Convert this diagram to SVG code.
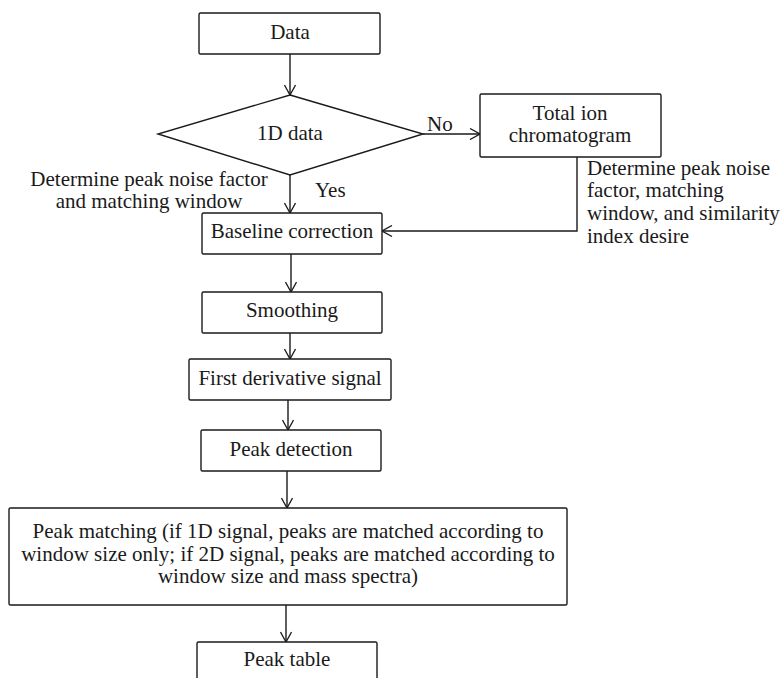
<svg xmlns="http://www.w3.org/2000/svg" width="782" height="678" viewBox="0 0 782 678">
<style>
.box{fill:#fff;stroke:#1a1a1a;stroke-width:1.4}
.t{font-family:"Liberation Serif","Times New Roman",serif;font-size:21px;fill:#1a1a1a}
.c{text-anchor:middle}
.ln{fill:none;stroke:#1a1a1a;stroke-width:1.4;marker-end:url(#ah)}
</style>
<defs>
<marker id="ah" viewBox="0 0 12 12" refX="11" refY="6" markerWidth="12" markerHeight="12" markerUnits="userSpaceOnUse" orient="auto">
<path d="M1,0.5 L11,6 L1,11.5" fill="none" stroke="#1a1a1a" stroke-width="1.3"/>
</marker>
</defs>
<rect width="782" height="678" fill="#fff"/>
<g id="connectors">
<path class="ln" d="M290,54 V95"/>
<path class="ln" d="M290,175 V213"/>
<path class="ln" d="M423,134 H480"/>
<path class="ln" d="M577,157 V231 H382"/>
<path class="ln" d="M291,254 V292"/>
<path class="ln" d="M290,333 V359"/>
<path class="ln" d="M288,400 V430"/>
<path class="ln" d="M287,471 V508"/>
<path class="ln" d="M286,605 V642"/>
</g>
<g id="node-data">
<rect class="box" x="199" y="13" width="181" height="41" rx="1.5"/>
<text class="t c" x="290" y="39">Data</text>
</g>
<g id="node-1d">
<polygon class="box" points="290,95 423,134 290,175 158,134"/>
<text class="t c" x="290" y="140">1D data</text>
</g>
<g id="node-tic">
<rect class="box" x="480" y="94" width="181" height="63" rx="1.5"/>
<text class="t c" x="570" y="120">Total ion</text>
<text class="t c" x="570" y="142">chromatogram</text>
</g>
<g id="node-baseline">
<rect class="box" x="202" y="213" width="180" height="41" rx="1.5"/>
<text class="t c" x="292" y="238">Baseline correction</text>
</g>
<g id="node-smoothing">
<rect class="box" x="202" y="292" width="180" height="41" rx="1.5"/>
<text class="t c" x="292" y="317">Smoothing</text>
</g>
<g id="node-first">
<rect class="box" x="189" y="359" width="202" height="41" rx="1.5"/>
<text class="t c" x="290" y="385">First derivative signal</text>
</g>
<g id="node-peakdet">
<rect class="box" x="201" y="430" width="180" height="41" rx="1.5"/>
<text class="t c" x="291" y="456">Peak detection</text>
</g>
<g id="node-peakmatch">
<rect class="box" x="9" y="508" width="558" height="97" rx="1.5"/>
<text class="t c" x="288" y="538">Peak matching (if 1D signal, peaks are matched according to</text>
<text class="t c" x="288" y="561">window size only; if 2D signal, peaks are matched according to</text>
<text class="t c" x="288" y="583">window size and mass spectra)</text>
</g>
<g id="node-peaktable">
<rect class="box" x="197" y="642" width="180" height="41" rx="1.5"/>
<text class="t c" x="287" y="666">Peak table</text>
</g>
<g id="labels">
<text class="t" x="427" y="131">No</text>
<text class="t" x="315" y="197">Yes</text>
<text class="t c" x="149" y="186">Determine peak noise factor</text>
<text class="t c" x="149" y="208">and matching window</text>
<text class="t" x="587" y="175">Determine peak noise</text>
<text class="t" x="587" y="197">factor, matching</text>
<text class="t" x="587" y="220">window, and similarity</text>
<text class="t" x="587" y="243">index desire</text>
</g>
</svg>
